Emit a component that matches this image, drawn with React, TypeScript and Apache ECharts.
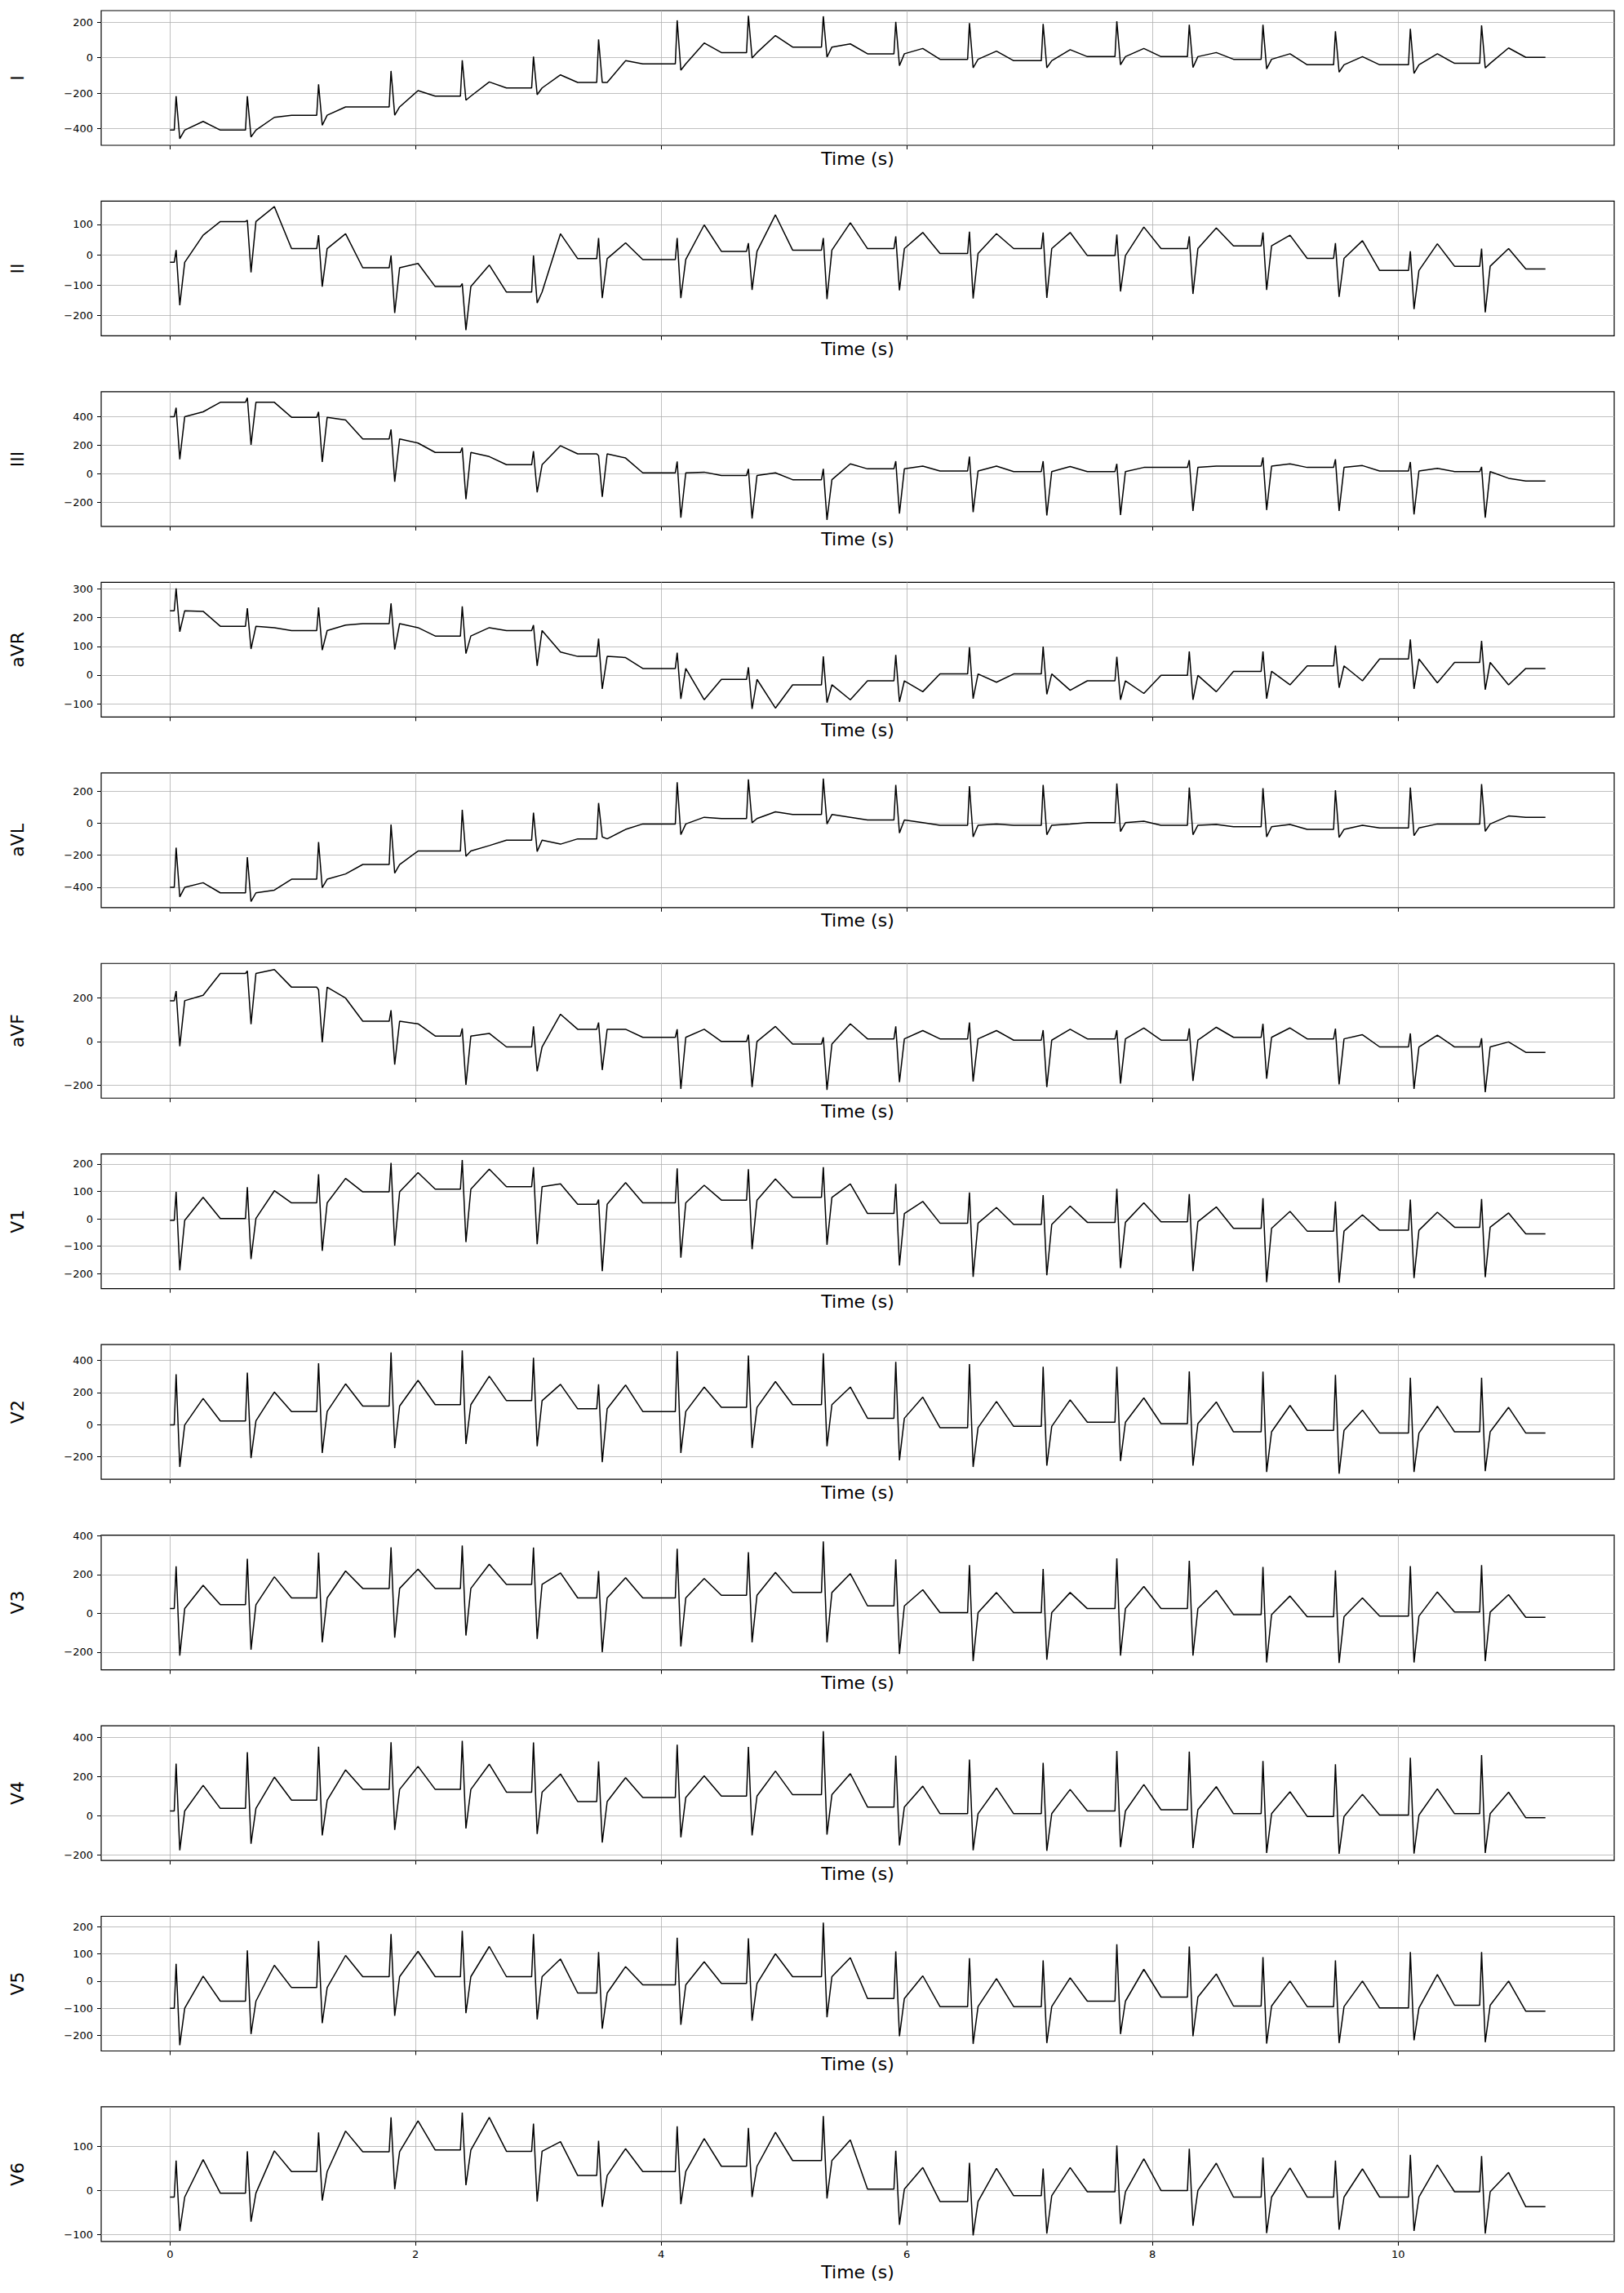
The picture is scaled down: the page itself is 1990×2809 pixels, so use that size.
import React, { useEffect, useRef } from 'react';
import * as echarts from 'echarts';

const LEADS = ['I', 'II', 'III', 'aVR', 'aVL', 'aVF', 'V1', 'V2', 'V3', 'V4', 'V5', 'V6'];
const BEAT_TIMES = [0.05, 0.63, 1.21, 1.80, 2.38, 2.96, 3.49, 4.13, 4.71, 5.32, 5.91, 6.51, 7.11, 7.71, 8.30, 8.90, 9.49, 10.10, 10.68];
const END_TIME = 11.2;
const X_TICKS = [0, 2, 4, 6, 8, 10];

// Per-beat values: baseline before QRS, R peak, S trough, T wave
const I_BASE = [-409, -409, -325, -278, -217, -171, -140, -35, 29, 60, 22, -9, -17, 6, 6, -9, -40, -40, -32];
const I_R = [-217, -217, -151, -75, -14, 6, 103, 211, 237, 234, 202, 195, 191, 206, 186, 186, 149, 163, 183];
const I_S = [-458, -448, -382, -325, -240, -209, -140, -71, -2, 3, -45, -57, -57, -40, -55, -63, -82, -89, -58];
const I_T = [-360, -337, -278, -186, -137, -97, -17, 83, 125, 78, 52, 37, 45, 52, 29, 22, 6, 22, 55];
const I_END = 2;

const II_BASE = [-25, 109, 20, -43, -105, -123, -13, -16, 11, 15, 20, 4, 20, -3, 20, 29, -12, -52, -38];
const II_R = [15, 113, 64, -3, -95, -3, 55, 55, 38, 55, 60, 76, 73, 66, 60, 73, 38, 11, 20];
const II_S = [-166, -58, -105, -192, -248, -159, -143, -143, -116, -146, -117, -144, -142, -121, -129, -116, -139, -179, -190];
const II_T = [64, 158, 69, -29, -34, 69, 39, 98, 131, 105, 73, 69, 73, 91, 88, 64, 46, 36, 20];
const II_END = -47;

const III_BASE = [400, 501, 396, 244, 149, 63, 139, 6, -13, -42, 34, 19, 15, 15, 44, 53, 44, 19, 15];
const III_R = [463, 533, 434, 310, 183, 158, 126, 86, 34, 34, 88, 120, 88, 69, 95, 114, 101, 82, 48];
const III_S = [101, 202, 82, -57, -179, -131, -162, -309, -314, -324, -280, -270, -293, -290, -261, -255, -261, -286, -309];
const III_T = [434, 501, 377, 215, 120, 196, 110, 11, 6, 69, 53, 53, 50, 44, 53, 69, 57, 38, -32];
const III_END = -51;

const AVR_BASE = [224, 170, 155, 179, 136, 155, 65, 23, -15, -34, -20, 4, 4, -20, -1, 13, 32, 56, 44];
const AVR_R = [302, 233, 236, 250, 239, 174, 127, 78, 27, 65, 70, 97, 99, 64, 82, 82, 103, 124, 119];
const AVR_S = [151, 91, 87, 89, 75, 32, -48, -83, -118, -96, -93, -82, -67, -86, -86, -82, -44, -48, -51];
const AVR_T = [222, 165, 174, 165, 165, 80, 61, -86, -115, -86, -58, -25, -53, -64, -58, -34, -20, -27, -34];
const AVR_END = 23;

const AVL_BASE = [-401, -435, -350, -258, -174, -106, -98, -5, 29, 54, 20, -13, -13, 3, -13, -22, -39, -30, -5];
const AVL_R = [-153, -212, -118, -8, 83, 66, 126, 256, 273, 278, 239, 231, 239, 248, 222, 219, 206, 222, 244];
const AVL_S = [-460, -489, -403, -312, -207, -177, -86, -72, 3, -5, -61, -86, -72, -52, -72, -86, -89, -78, -51];
const AVL_T = [-372, -418, -317, -174, -140, -131, -39, 37, 71, 37, 3, -5, -5, 12, -8, -8, -13, -5, 45];
const AVL_END = 37;

const AVF_BASE = [187, 312, 249, 93, 25, -25, 56, 19, 0, -12, 12, 12, 6, 12, 6, 19, 12, -25, -25];
const AVF_R = [231, 324, 237, 143, 60, 69, 87, 56, 31, 19, 69, 87, 52, 52, 60, 81, 59, 37, 15];
const AVF_S = [-22, 79, -4, -106, -199, -137, -131, -218, -209, -222, -187, -184, -209, -193, -181, -171, -197, -218, -233];
const AVF_T = [212, 330, 199, 81, 37, 125, 56, 56, 69, 81, 50, 50, 56, 62, 65, 62, 31, 29, -2];
const AVF_END = -50;

const V1_BASE = [-6, 1, 58, 98, 108, 117, 53, 58, 68, 78, 19, -16, -21, -13, -11, -35, -45, -42, -31];
const V1_R = [98, 115, 162, 204, 214, 188, 70, 184, 181, 188, 127, 96, 86, 109, 90, 75, 63, 70, 72];
const V1_S = [-188, -147, -117, -98, -85, -93, -191, -142, -111, -95, -170, -212, -206, -180, -191, -231, -233, -216, -213];
const V1_T = [78, 102, 147, 168, 181, 127, 132, 122, 145, 127, 63, 41, 46, 58, 43, 27, 14, 24, 21];
const V1_END = -55;

const V2_BASE = [-3, 22, 81, 115, 124, 149, 98, 81, 107, 124, 39, -20, -12, 14, 5, -46, -37, -54, -46];
const V2_R = [314, 324, 383, 451, 463, 417, 251, 458, 432, 446, 392, 378, 361, 361, 332, 331, 310, 293, 293];
const V2_S = [-266, -210, -178, -148, -122, -136, -236, -178, -147, -136, -224, -266, -258, -229, -258, -297, -308, -297, -292];
const V2_T = [163, 203, 254, 276, 302, 251, 247, 234, 268, 234, 171, 144, 154, 166, 141, 119, 90, 114, 107];
const V2_END = -54;

const V3_BASE = [24, 44, 79, 128, 128, 149, 79, 79, 93, 107, 38, 3, 3, 24, 24, -7, -18, -15, 6];
const V3_R = [242, 281, 313, 340, 350, 339, 218, 333, 315, 371, 278, 249, 229, 283, 271, 239, 221, 243, 249];
const V3_S = [-219, -188, -150, -126, -115, -132, -201, -171, -150, -150, -210, -247, -240, -219, -219, -254, -257, -254, -247];
const V3_T = [144, 188, 218, 228, 253, 208, 183, 179, 211, 204, 121, 107, 107, 138, 118, 89, 79, 110, 96];
const V3_END = -21;

const V4_BASE = [24, 37, 79, 134, 134, 120, 72, 93, 100, 107, 44, 10, 10, 24, 30, 10, -4, 3, 10];
const V4_R = [266, 324, 353, 376, 383, 374, 277, 363, 352, 432, 307, 287, 270, 331, 328, 280, 263, 296, 310];
const V4_S = [-177, -144, -101, -73, -66, -94, -138, -111, -101, -97, -152, -177, -180, -161, -166, -191, -195, -194, -191];
const V4_T = [155, 197, 234, 252, 263, 213, 194, 203, 228, 215, 151, 141, 134, 159, 148, 122, 109, 137, 120];
const V4_END = -11;

const V5_BASE = [-100, -74, -24, 16, 16, 16, -44, -14, -9, 16, -64, -94, -94, -74, -59, -92, -94, -99, -89];
const V5_R = [63, 113, 147, 173, 185, 173, 107, 159, 157, 215, 109, 84, 76, 135, 127, 88, 76, 107, 107];
const V5_S = [-236, -195, -155, -128, -118, -141, -175, -161, -146, -133, -203, -231, -228, -195, -203, -230, -228, -218, -225];
const V5_T = [18, 58, 94, 109, 127, 81, 53, 71, 100, 86, 19, 9, 12, 43, 26, 0, 0, 24, 0];
const V5_END = -111;

const V6_BASE = [-15, -6, 43, 88, 92, 89, 34, 43, 55, 68, 3, -25, -12, -3, 0, -15, -15, -15, -3];
const V6_R = [68, 89, 132, 166, 177, 152, 113, 146, 142, 169, 90, 63, 50, 102, 95, 75, 68, 81, 78];
const V6_S = [-92, -71, -23, 3, 12, -25, -37, -31, -15, -18, -78, -102, -98, -76, -80, -97, -89, -92, -98];
const V6_T = [70, 90, 135, 158, 166, 111, 95, 118, 132, 115, 52, 50, 52, 72, 62, 51, 49, 58, 41];
const V6_END = -37;

// Axis ranges and tick labels
const Y_MIN = [-495, -267, -370, -146, -527, -260, -255, -343, -292, -229, -257, -116];
const Y_MAX = [266, 176, 575, 323, 314, 358, 236, 500, 403, 460, 238, 190];
const TICKS_I = [-400, -200, 0, 200];
const TICKS_II = [-200, -100, 0, 100];
const TICKS_III = [-200, 0, 200, 400];
const TICKS_AVR = [-100, 0, 100, 200, 300];
const TICKS_AVL = [-400, -200, 0, 200];
const TICKS_AVF = [-200, 0, 200];
const TICKS_V1 = [-200, -100, 0, 100, 200];
const TICKS_V2 = [-200, 0, 200, 400];
const TICKS_V3 = [-200, 0, 200, 400];
const TICKS_V4 = [-200, 0, 200, 400];
const TICKS_V5 = [-200, -100, 0, 100, 200];
const TICKS_V6 = [-100, 0, 100];

const LEAD_VALUES = [
  [I_BASE, I_R, I_S, I_T, I_END],
  [II_BASE, II_R, II_S, II_T, II_END],
  [III_BASE, III_R, III_S, III_T, III_END],
  [AVR_BASE, AVR_R, AVR_S, AVR_T, AVR_END],
  [AVL_BASE, AVL_R, AVL_S, AVL_T, AVL_END],
  [AVF_BASE, AVF_R, AVF_S, AVF_T, AVF_END],
  [V1_BASE, V1_R, V1_S, V1_T, V1_END],
  [V2_BASE, V2_R, V2_S, V2_T, V2_END],
  [V3_BASE, V3_R, V3_S, V3_T, V3_END],
  [V4_BASE, V4_R, V4_S, V4_T, V4_END],
  [V5_BASE, V5_R, V5_S, V5_T, V5_END],
  [V6_BASE, V6_R, V6_S, V6_T, V6_END],
] as any[];
const LEAD_TICKS = [TICKS_I, TICKS_II, TICKS_III, TICKS_AVR, TICKS_AVL, TICKS_AVF, TICKS_V1, TICKS_V2, TICKS_V3, TICKS_V4, TICKS_V5, TICKS_V6];

// timing of the wave landmarks relative to each R peak (seconds)
const OFF_PRE = -0.08, OFF_Q = -0.015, OFF_S = 0.03, OFF_J = 0.07, OFF_T = 0.22, OFF_TEND = 0.36;

function buildTrace(vals: any[]) {
  const [base, R, S, T, end] = vals;
  const pts: number[][] = [[0, base[0]]];
  const n = BEAT_TIMES.length;
  for (let i = 0; i < n; i++) {
    const r = BEAT_TIMES[i];
    if (r + OFF_PRE > 0) pts.push([r + OFF_PRE, base[i]]);
    if (r + OFF_Q > 0) pts.push([r + OFF_Q, base[i]]);
    pts.push([r, R[i]]);
    pts.push([r + OFF_S, S[i]]);
    pts.push([r + OFF_J, base[i]]);
    pts.push([r + OFF_T, T[i]]);
    pts.push([r + OFF_TEND, i < n - 1 ? base[i + 1] : end]);
  }
  pts.push([END_TIME, end]);
  return pts;
}

const FONT = 'DejaVu Sans';
const fmt = (v: number) => (v < 0 ? '\u2212' + Math.abs(v) : String(v));

export default function App() {
  const ref = useRef<HTMLDivElement>(null);
  useEffect(() => {
    document.body.style.margin = '0';
    const chart = echarts.init(ref.current!, null, { renderer: 'svg' });
    const top0 = 13, step = 233.45, h = 165;
    const n = LEADS.length;
    const option: any = {
      animation: false,
      backgroundColor: '#fff',
      grid: LEADS.map((_, i) => ({
        left: 124, right: 12, top: top0 + step * i, height: h,
        show: true, borderColor: '#000', borderWidth: 1.2, backgroundColor: 'transparent',
      })),
      xAxis: LEADS.map((_, i) => ({
        gridIndex: i, type: 'value', min: -0.56, max: 11.76, position: 'bottom',
        axisLine: { show: false, onZero: false },
        axisTick: { show: true, length: 5, lineStyle: { color: '#000', width: 1 }, customValues: X_TICKS },
        axisLabel: { show: i === n - 1, customValues: X_TICKS, fontSize: 13, color: '#000', fontFamily: FONT, margin: 9 },
        splitLine: { show: true, lineStyle: { color: '#b0b0b0', width: 0.8 } },
        name: 'Time (s)', nameLocation: 'middle', nameGap: i === n - 1 ? 27 : 5,
        nameTextStyle: { fontSize: 22, color: '#000', fontFamily: FONT, verticalAlign: 'top' },
      })),
      yAxis: LEADS.map((lead, i) => ({
        gridIndex: i, type: 'value', min: Y_MIN[i], max: Y_MAX[i], position: 'left',
        axisLine: { show: false, onZero: false },
        axisTick: { show: true, length: 5, lineStyle: { color: '#000', width: 1 }, customValues: LEAD_TICKS[i] },
        axisLabel: { show: true, customValues: LEAD_TICKS[i], fontSize: 13, color: '#000', fontFamily: FONT, margin: 10, formatter: fmt },
        splitLine: { show: true, lineStyle: { color: '#b0b0b0', width: 0.8 } },
        name: lead, nameLocation: 'middle', nameGap: 92, nameRotate: 90,
        nameTextStyle: { fontSize: 22, color: '#000', fontFamily: FONT },
      })),
      series: LEADS.map((_, i) => ({
        type: 'line', xAxisIndex: i, yAxisIndex: i,
        data: buildTrace(LEAD_VALUES[i]),
        showSymbol: false, symbol: 'none', silent: true,
        lineStyle: { color: '#000', width: 1.5 },
      })),
    };
    chart.setOption(option);
    return () => chart.dispose();
  }, []);
  return <div ref={ref} style={{ position: 'absolute', left: 0, top: 0, width: 1990, height: 2809 }} />;
}
